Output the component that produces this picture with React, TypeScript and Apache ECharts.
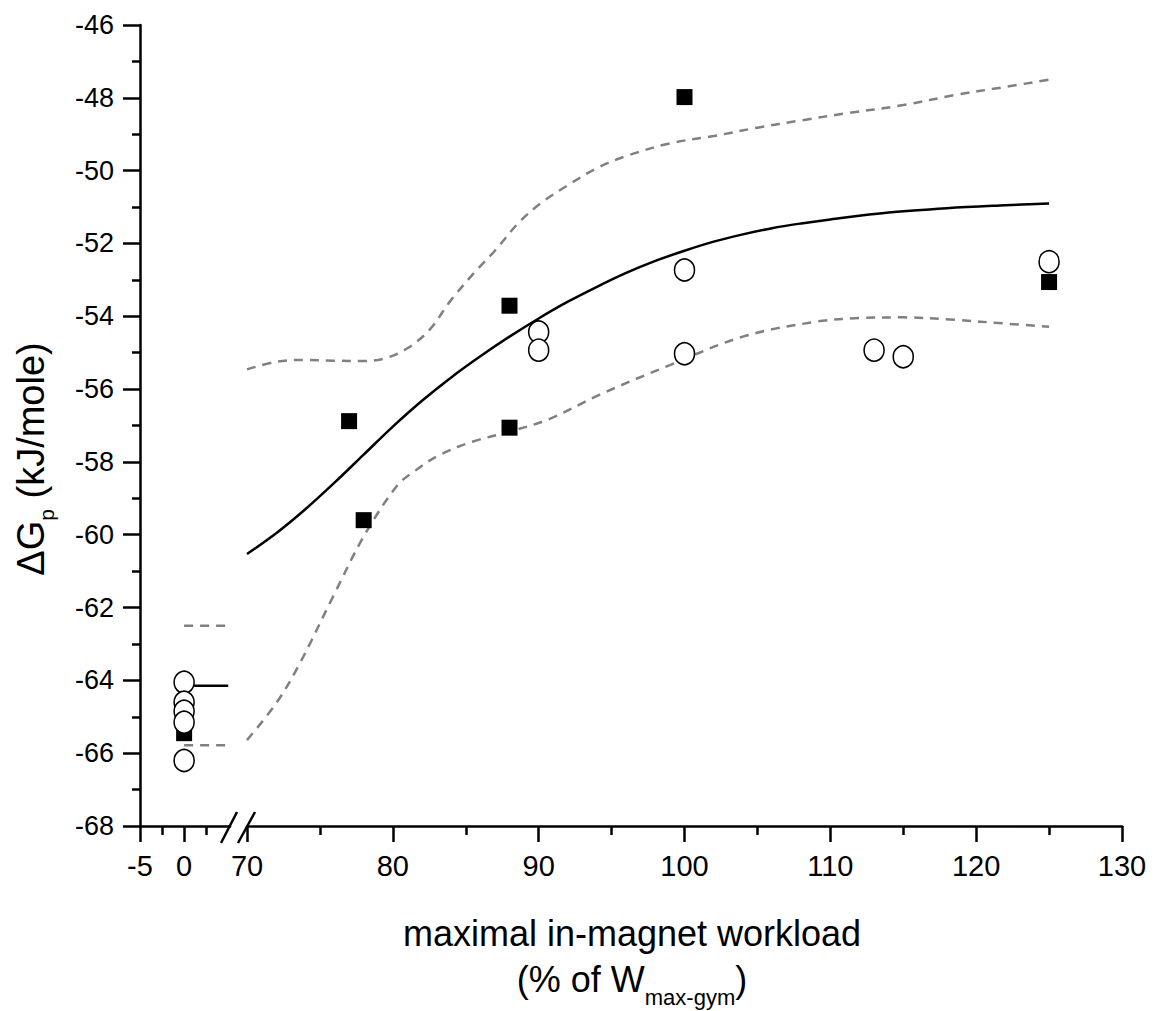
import React, { useEffect, useRef } from "react";
import * as echarts from "echarts";

const FONT = "'Liberation Sans', Arial, Helvetica, sans-serif";

// ---- axes ----
const yTickValues = [-68, -66, -64, -62, -60, -58, -56, -54, -52, -50, -48, -46];
const leftMajorTicks = [-5, 0];
const leftMinorTicks = [-2.5, 2.5];
const rightTickValues = [70, 80, 90, 100, 110, 120, 130];

// ---- baseline segment (x = 0) ----
const baselineSquares = [[0, -65.45]];
const baselineCircles = [[0, -64.05], [0, -64.6], [0, -64.85], [0, -65.15], [0, -66.2]];
const baselineFit = [[0, -64.15], [5, -64.15]];
const baselineUpper = [[0, -62.5], [5, -62.5]];
const baselineLower = [[0, -65.78], [5, -65.78]];

// ---- exercise segment ----
const squareX = [77, 78, 88, 88, 100, 125];
const squareY = [-56.88, -59.6, -53.71, -57.06, -47.98, -53.06];
const circleX = [90, 90, 100, 100, 113, 115, 125];
const circleY = [-54.43, -54.93, -52.73, -55.03, -54.93, -55.11, -52.5];

const fitX = [70, 72, 74, 76, 78, 80, 82, 84, 86, 88, 90, 92, 94, 96, 98, 100, 102, 104, 106, 108, 110, 114, 118, 122, 125];
const fitY = [-60.53, -59.96, -59.3, -58.57, -57.8, -57.03, -56.32, -55.68, -55.1, -54.56, -54.06, -53.6, -53.19, -52.81, -52.48, -52.2, -51.95, -51.75, -51.58, -51.45, -51.34, -51.15, -51.03, -50.95, -50.9];

const upperX = [70, 72, 74, 76, 78, 79.5, 81, 82.5, 84, 85.75, 87, 88.7, 90.3, 92, 94, 96, 99, 102, 105, 108, 111, 115, 118.6, 122, 125];
const upperY = [-55.46, -55.25, -55.2, -55.22, -55.23, -55.15, -54.88, -54.38, -53.55, -52.73, -52.2, -51.4, -50.85, -50.4, -49.93, -49.6, -49.25, -49.05, -48.82, -48.62, -48.43, -48.2, -47.92, -47.7, -47.5];

const lowerX = [70, 72, 73.6, 75.9, 78, 80.3, 81.6, 83.2, 85.5, 88, 90.8, 94.2, 99, 104, 109, 112, 115, 118.6, 122, 125];
const lowerY = [-65.64, -64.63, -63.55, -61.7, -60.05, -58.65, -58.22, -57.81, -57.44, -57.17, -56.81, -56.15, -55.34, -54.56, -54.15, -54.05, -54.03, -54.1, -54.2, -54.29];

const zip = (xs: number[], ys: number[]) => xs.map((x, i) => [x, ys[i]]);

function measure(text: string, size: number): number {
  const c = document.createElement("canvas").getContext("2d");
  if (!c) return text.length * size * 0.55;
  c.font = `${size}px ${FONT}`;
  return c.measureText(text).width;
}

export default function App() {
  const ref = useRef<HTMLDivElement>(null);

  useEffect(() => {
    if (!ref.current) return;
    const chart = echarts.init(ref.current, null, { renderer: "svg" });

    const axisLine = { show: true, onZero: false, lineStyle: { color: "#000", width: 2.5 } };
    const gridTop = 25;
    const gridH = 801;

    // y title pieces
    const yMain = 38, ySub = 21;
    const yA = "\u0394G", yB = "p", yC = " (kJ/mole)";
    const wA = measure(yA, yMain), wB = measure(yB, ySub), wC = measure(yC, yMain);
    const yW = wA + wB + wC;

    // x title line 2 pieces
    const xMain = 36, xSub = 22;
    const xA = "(% of W", xB = "max-gym", xC = ")";
    const vA = measure(xA, xMain), vB = measure(xB, xSub), vC = measure(xC, xMain);
    const xW = vA + vB + vC;
    const xCenter = 632;

    const txt = (text: string, size: number, x: number, y: number, align = "left") => ({
      type: "text",
      x,
      y,
      style: { text, font: `${size}px ${FONT}`, fill: "#000", textAlign: align, textVerticalAlign: "middle" },
    });

    const squareStyle = { color: "#000", opacity: 1 };
    const circleStyle = { color: "#fff", borderColor: "#000", borderWidth: 1.6, opacity: 1 };

    const option: any = {
      animation: false,
      backgroundColor: "#fff",
      grid: [
        { left: 140, top: gridTop, width: 90, height: gridH },
        { left: 247, top: gridTop, width: 875, height: gridH },
      ],
      xAxis: [
        {
          type: "value", gridIndex: 0, min: -5, max: 5.2, position: "bottom",
          axisLine,
          axisTick: { show: true, length: 16, lineStyle: { color: "#000", width: 2.5 }, customValues: leftMajorTicks },
          axisLabel: { show: true, customValues: leftMajorTicks, fontSize: 29, fontFamily: FONT, color: "#000", margin: 25 },
          splitLine: { show: false },
        },
        {
          type: "value", gridIndex: 0, min: -5, max: 5.2, position: "bottom", offset: 0,
          axisLine: { show: false, onZero: false },
          axisTick: { show: true, length: 9, lineStyle: { color: "#000", width: 2.5 }, customValues: leftMinorTicks },
          axisLabel: { show: false },
          splitLine: { show: false },
        },
        {
          type: "value", gridIndex: 1, min: 70, max: 130, interval: 10, position: "bottom",
          axisLine,
          axisTick: { show: true, length: 16, lineStyle: { color: "#000", width: 2.5 } },
          minorTick: { show: true, splitNumber: 2, length: 9, lineStyle: { color: "#000", width: 2.5 } },
          axisLabel: { show: true, customValues: rightTickValues, fontSize: 29, fontFamily: FONT, color: "#000", margin: 25 },
          splitLine: { show: false },
          minorSplitLine: { show: false },
        },
      ],
      yAxis: [
        {
          type: "value", gridIndex: 0, min: -68, max: -46, interval: 2, position: "left",
          axisLine,
          axisTick: { show: true, length: 17, lineStyle: { color: "#000", width: 2.5 } },
          minorTick: { show: true, splitNumber: 2, length: 8, lineStyle: { color: "#000", width: 2.5 } },
          axisLabel: { show: true, customValues: yTickValues, fontSize: 27, fontFamily: FONT, color: "#000", margin: 26 },
          splitLine: { show: false },
          minorSplitLine: { show: false },
        },
        {
          type: "value", gridIndex: 1, min: -68, max: -46, interval: 2, show: false,
        },
      ],
      series: [
        { type: "line", xAxisIndex: 0, yAxisIndex: 0, data: baselineUpper, symbol: "none", lineStyle: { color: "#808080", width: 2.5, type: [9, 7] }, z: 2 },
        { type: "line", xAxisIndex: 0, yAxisIndex: 0, data: baselineLower, symbol: "none", lineStyle: { color: "#808080", width: 2.5, type: [9, 7] }, z: 2 },
        { type: "line", xAxisIndex: 0, yAxisIndex: 0, data: baselineFit, symbol: "none", lineStyle: { color: "#000", width: 2.5 }, z: 2 },
        { type: "scatter", xAxisIndex: 0, yAxisIndex: 0, data: baselineSquares, symbol: "rect", symbolSize: 16, itemStyle: squareStyle, z: 3 },
        { type: "scatter", xAxisIndex: 0, yAxisIndex: 0, data: baselineCircles, symbol: "circle", symbolSize: [20, 22], itemStyle: circleStyle, z: 4 },

        { type: "line", xAxisIndex: 2, yAxisIndex: 1, data: zip(upperX, upperY), symbol: "none", smooth: 0.35, lineStyle: { color: "#808080", width: 2.5, type: [9, 7] }, z: 2 },
        { type: "line", xAxisIndex: 2, yAxisIndex: 1, data: zip(lowerX, lowerY), symbol: "none", smooth: 0.35, lineStyle: { color: "#808080", width: 2.5, type: [9, 7] }, z: 2 },
        { type: "line", xAxisIndex: 2, yAxisIndex: 1, data: zip(fitX, fitY), symbol: "none", smooth: 0.35, lineStyle: { color: "#000", width: 2.5 }, z: 2 },
        { type: "scatter", xAxisIndex: 2, yAxisIndex: 1, data: zip(squareX, squareY), symbol: "rect", symbolSize: 16, itemStyle: squareStyle, z: 3 },
        { type: "scatter", xAxisIndex: 2, yAxisIndex: 1, data: zip(circleX, circleY), symbol: "circle", symbolSize: [20, 22], itemStyle: circleStyle, z: 4 },
      ],
      graphic: [
        // axis break marks
        { type: "line", shape: { x1: 221, y1: 843, x2: 237, y2: 812 }, style: { stroke: "#000", lineWidth: 2.5 } },
        { type: "line", shape: { x1: 238, y1: 843, x2: 255, y2: 812 }, style: { stroke: "#000", lineWidth: 2.5 } },
        // y title
        {
          type: "group",
          x: 31,
          y: 459,
          rotation: Math.PI / 2,
          children: [
            txt(yA, yMain, -yW / 2, 0),
            txt(yB, ySub, -yW / 2 + wA, 15),
            txt(yC, yMain, -yW / 2 + wA + wB, 0),
          ],
        },
        // x title
        txt("maximal in-magnet workload", 36, xCenter, 933, "center"),
        txt(xA, xMain, xCenter - xW / 2, 979),
        txt(xB, xSub, xCenter - xW / 2 + vA, 997),
        txt(xC, xMain, xCenter - xW / 2 + vA + vB, 979),
      ],
    };

    chart.setOption(option);
    return () => chart.dispose();
  }, []);

  return <div ref={ref} style={{ position: "fixed", left: 0, top: 0, width: 1158, height: 1011, background: "#fff" }} />;
}
